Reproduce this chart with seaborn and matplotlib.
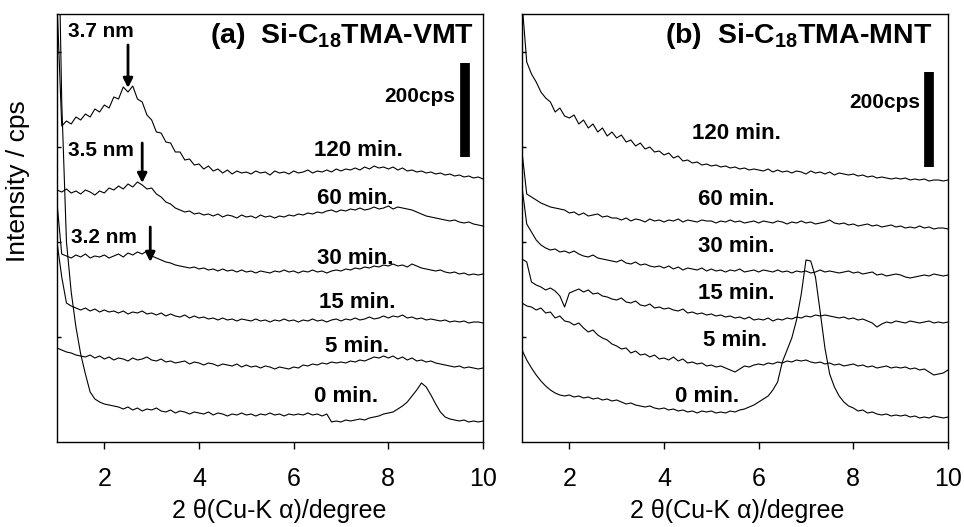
import numpy as np
import pandas as pd
import matplotlib
matplotlib.use("Agg")
import matplotlib.pyplot as plt
import seaborn as sns

# ---------------- data (offset intensity, arbitrary units; 94 units = 200 cps) -------------
two_theta = np.linspace(1.0, 10.0, 91)   # scan grid, degrees

times = ["0 min.", "5 min.", "15 min.", "30 min.", "60 min.", "120 min."]

# panel (a) Si-C18TMA-VMT
a_0 = [600, 340, 200, 150, 115, 88, 68, 50, 43, 40,
       38, 37, 36, 35, 33, 35, 32, 34, 31, 33,
       32, 34, 31, 30, 32, 29, 31, 30, 28, 30,
       29, 28, 30, 27, 29, 28, 26, 28, 27, 29,
       27, 28, 26, 28, 27, 29, 27, 28, 26, 28,
       27, 28, 27, 29, 27, 28, 26, 28, 20, 21,
       20, 22, 21, 22, 23, 22, 24, 25, 26, 28,
       29, 30, 33, 36, 40, 46, 52, 59, 55, 47,
       38, 30, 25, 23, 22, 21, 22, 20, 21, 20, 21]
a_5 = [94, 92, 90, 89, 87, 86, 85, 87, 84, 86,
       83, 85, 82, 84, 83, 81, 84, 82, 83, 85,
       82, 81, 83, 80, 81, 79, 80, 81, 78, 80,
       79, 77, 79, 78, 76, 78, 77, 76, 78, 75,
       77, 75, 76, 74, 76, 75, 73, 75, 74, 73,
       75, 74, 77, 76, 78, 77, 79, 78, 80, 79,
       80, 79, 81, 80, 82, 81, 83, 85, 84, 86,
       84, 86, 83, 85, 82, 84, 81, 82, 80, 81,
       79, 78, 77, 76, 75, 76, 74, 75, 74, 73, 74]
a_15 = [200, 165, 139, 136, 134, 132, 134, 131, 133, 130,
        132, 130, 131, 129, 131, 128, 130, 129, 131, 128,
        129, 127, 129, 126, 128, 126, 125, 127, 124, 126,
        124, 125, 123, 124, 122, 124, 122, 123, 121, 123,
        122, 121, 123, 121, 122, 120, 122, 121, 123, 121,
        122, 120, 122, 121, 123, 121, 122, 120, 122, 123,
        121, 123, 122, 124, 122, 123, 125, 123, 124, 126,
        124, 126, 125, 127, 124, 125, 123, 124, 122, 123,
        122, 121, 122, 120, 121, 120, 121, 119, 120, 120, 119]
a_30 = [239, 188, 186, 184, 187, 185, 188, 184, 186, 185,
        187, 184, 186, 188, 185, 189, 187, 190, 188, 191,
        186, 184, 182, 180, 179, 177, 176, 175, 174, 175,
        173, 174, 172, 173, 171, 173, 171, 172, 170, 172,
        170, 171, 169, 171, 170, 169, 171, 170, 172, 170,
        171, 169, 171, 170, 172, 170, 171, 169, 171, 172,
        171, 173, 172, 174, 173, 175, 174, 176, 175, 177,
        176, 178, 176, 177, 175, 178, 176, 174, 173, 172,
        171, 172, 170, 169, 170, 168, 169, 167, 168, 167, 168]
a_60 = [252, 250, 253, 249, 251, 248, 252, 250, 247, 251,
        249, 254, 252, 256, 253, 258, 255, 260, 257, 253,
        254, 248, 245, 240, 238, 234, 232, 230, 231, 228,
        229, 227, 228, 226, 228, 225, 227, 226, 224, 227,
        225, 226, 224, 227, 225, 226, 224, 226, 225, 227,
        226, 228, 227, 229, 228, 230, 229, 231, 232, 230,
        232, 231, 233, 232, 234, 232, 233, 235, 233, 234,
        236, 233, 235, 234, 233, 232, 230, 228, 226, 225,
        224, 223, 222, 221, 222, 220, 219, 220, 218, 217, 216]
a_120 = [440, 316, 321, 318, 325, 322, 328, 325, 333, 330,
         337, 334, 345, 343, 355, 350, 356, 343, 340, 327,
         322, 310, 309, 300, 299, 290, 290, 282, 283, 277,
         278, 273, 276, 271, 273, 269, 272, 268, 271, 269,
         270, 268, 271, 269, 270, 267, 271, 269, 270, 268,
         271, 269, 270, 272, 269, 271, 270, 272, 270, 273,
         271, 273, 272, 274, 272, 275, 273, 276, 274, 275,
         273, 275, 272, 274, 271, 272, 270, 271, 269, 270,
         268, 269, 267, 268, 266, 267, 265, 266, 264, 265, 263]

# panel (b) Si-C18TMA-MNT
b_0 = [92, 82, 74, 67, 61, 56, 52, 49, 47, 46,
       47, 45, 46, 44, 45, 43, 44, 42, 43, 41,
       42, 40, 38, 39, 37, 36, 35, 36, 34, 33,
       34, 32, 33, 31, 32, 30, 31, 29, 31, 30,
       31, 29, 30, 29, 31, 30, 32, 33, 35, 37,
       40, 43, 46, 52, 60, 80, 92, 104, 122, 148,
       182, 181, 165, 130, 94, 68, 55, 46, 40, 36,
       34, 31, 32, 29, 30, 28, 27, 28, 26, 27,
       26, 27, 25, 26, 24, 25, 24, 26, 25, 24, 25]
b_5 = [139, 136, 135, 132, 134, 129, 130, 124, 126, 121,
       120, 117, 119, 114, 110, 112, 107, 104, 102, 98,
       96, 93, 94, 89, 91, 87, 88, 85, 87, 83,
       84, 82, 85, 81, 83, 79, 80, 78, 79, 76,
       77, 75, 76, 74, 72, 70, 73, 76, 75, 77,
       78, 77, 79, 78, 80, 79, 81, 80, 82, 81,
       82, 80, 79, 80, 78, 79, 77, 78, 76, 77,
       78, 76, 77, 75, 76, 74, 75, 76, 74, 75,
       74, 75, 73, 74, 72, 73, 70, 67, 68, 69, 72]
b_15 = [183, 180, 160, 157, 155, 152, 154, 151, 146, 135,
        149, 151, 153, 150, 152, 148, 149, 146, 145, 143,
        142, 144, 140, 139, 141, 137, 136, 138, 134, 135,
        133, 134, 132, 131, 133, 129, 130, 128, 129, 127,
        128, 126, 127, 125, 126, 124, 125, 123, 125, 122,
        123, 122, 124, 121, 123, 122, 124, 123, 125, 124,
        126, 125, 127, 126, 127, 126, 125, 124, 125, 123,
        124, 122, 123, 121, 119, 115, 118, 120, 119, 121,
        120, 119, 121, 120, 119, 120, 121, 119, 120, 119, 120]
b_30 = [255, 218, 210, 202, 197, 194, 192, 193, 190, 191,
        189, 191, 188, 186, 185, 187, 184, 183, 182, 181,
        180, 182, 179, 178, 180, 177, 178, 176, 175, 176,
        174, 176, 173, 175, 172, 174, 173, 172, 174, 171,
        173, 171, 172, 170, 172, 171, 173, 170, 171, 172,
        170, 172, 171, 170, 172, 170, 171, 169, 171, 170,
        171, 169, 170, 172, 170, 171, 170, 169, 170, 171,
        169, 170, 168, 169, 170, 167, 168, 166, 167, 168,
        167, 165, 164, 165, 166, 167, 166, 168, 167, 166, 167]
b_60 = [290, 248, 245, 242, 239, 237, 235, 234, 233, 232,
        229, 230, 227, 229, 226, 227, 228, 225, 226, 224,
        224, 222, 224, 221, 223, 222, 220, 223, 221, 222,
        220, 222, 221, 223, 220, 222, 221, 220, 222, 221,
        221, 219, 221, 220, 222, 220, 221, 219, 220, 221,
        219, 221, 220, 219, 221, 220, 218, 220, 219, 221,
        219, 220, 218, 219, 220, 222, 219, 218, 219, 217,
        218, 216, 217, 218, 216, 217, 215, 216, 217, 215,
        216, 214, 215, 214, 216, 214, 215, 213, 214, 214, 213]
b_120 = [440, 380, 368, 360, 350, 344, 340, 330, 334, 326,
         324, 327, 318, 322, 314, 318, 310, 314, 306, 310,
         304, 307, 300, 302, 296, 299, 293, 295, 290, 291,
         287, 289, 284, 286, 281, 282, 279, 280, 277, 278,
         276, 277, 275, 276, 274, 275, 273, 274, 272, 273,
         272, 271, 273, 270, 272, 270, 271, 269, 271, 270,
         268, 271, 269, 270, 268, 270, 267, 269, 268, 267,
         268, 266, 267, 265, 266, 264, 265, 264, 263, 264,
         263, 264, 262, 263, 262, 263, 261, 262, 262, 261, 262]

panel_a = [a_0, a_5, a_15, a_30, a_60, a_120]
panel_b = [b_0, b_5, b_15, b_30, b_60, b_120]
for s in panel_a + panel_b:
    assert len(s) == len(two_theta), len(s)

# label anchor heights (same units as the curves)
label_pos_a = [(7.11, 46), (7.33, 95), (7.34, 140), (7.30, 184), (7.30, 244), (7.36, 292)]
label_pos_b = [(4.91, 45), (5.50, 102), (5.52, 149), (5.52, 196), (5.52, 243), (5.52, 309)]
spacings = ["3.7 nm", "3.5 nm", "3.2 nm"]

# ---------------- style ----------------
sns.set_style("ticks")
plt.rcParams["font.family"] = ["Liberation Sans", "DejaVu Sans"]
plt.rcParams["mathtext.fontset"] = "custom"
plt.rcParams["mathtext.rm"] = "Liberation Sans"
plt.rcParams["mathtext.bf"] = "Liberation Sans:bold"
for key in ["text.color", "axes.labelcolor", "xtick.color", "ytick.color",
            "axes.edgecolor"]:
    plt.rcParams[key] = "black"

fig = plt.figure(figsize=(9.64, 5.27), dpi=100)
W, H = 964, 527
ax_a = fig.add_axes([57 / W, 1 - 442 / H, 426 / W, 428 / H])
ax_b = fig.add_axes([522 / W, 1 - 442 / H, 426 / W, 428 / H])

def draw(ax, curves, labels_pos, title, title_x, bar_x, bar_y0, bar_y1, cps_y,
         xlabel_x):
    for vals in curves:
        sns.lineplot(x=two_theta, y=vals, ax=ax, color="black", lw=0.8,
                     estimator=None, sort=False)
    for (lx, ly), lab in zip(labels_pos, times):
        ax.text(lx, ly, lab, ha="center", va="center", fontsize=16,
                fontweight="bold", color="black")
    ax.text(title_x, 399, title, ha="left", va="baseline", fontsize=20.5,
            fontweight="bold", color="black")
    # 200 cps scale bar
    ax.plot([bar_x, bar_x], [bar_y0, bar_y1], color="black", lw=7,
            solid_capstyle="butt")
    ax.text(9.41, cps_y, "200cps", ha="right", va="center", fontsize=15,
            fontweight="bold", color="black")
    ax.set_xlim(1, 10)
    ax.set_ylim(0, 428)
    ax.set_xticks([2, 4, 6, 8, 10])
    ax.set_xticklabels(["2", "4", "6", "8", "10"])
    ax.set_yticks([105, 200, 295, 390])
    ax.set_yticklabels([])
    ax.tick_params(axis="x", direction="out", length=5, width=1,
                   labelsize=18, pad=13, colors="black")
    ax.tick_params(axis="y", direction="in", length=3, width=1, colors="black")
    for sp in ax.spines.values():
        sp.set_visible(True)
        sp.set_color("black")
        sp.set_linewidth(1)
    ax.set_xlabel("2 θ(Cu-K α)/degree", fontsize=18, color="black")
    ax.xaxis.set_label_coords(xlabel_x, -57 / 428)
    ax.set_ylabel("")

draw(ax_a, panel_a, label_pos_a, r"(a)  Si-C$_{\mathbf{18}}$TMA-VMT", 4.23,
     9.62, 285, 379, 346, 0.521)
draw(ax_b, panel_b, label_pos_b, r"(b)  Si-C$_{\mathbf{18}}$TMA-MNT", 4.02,
     9.60, 275, 370, 340, 0.505)

# d-spacing labels and arrows, panel (a)
for (tx, ty), lab in zip([(1.23, 411), (1.23, 292), (1.30, 205)], spacings):
    ax_a.text(tx, ty, lab, ha="left", va="center", fontsize=15,
              fontweight="bold", color="black")
for ax_x, y0, y1 in [(2.50, 397, 354), (2.80, 299, 259), (2.97, 215, 180)]:
    ax_a.annotate("", xy=(ax_x, y1), xytext=(ax_x, y0),
                  arrowprops=dict(arrowstyle="-|>", lw=2, color="black",
                                  mutation_scale=14, shrinkA=0, shrinkB=0))

fig.text(18 / W, 1 - 181 / H, "Intensity / cps", rotation=90, ha="center",
         va="center", fontsize=19, color="black")

fig.savefig("out.png", dpi=100, facecolor="white")
